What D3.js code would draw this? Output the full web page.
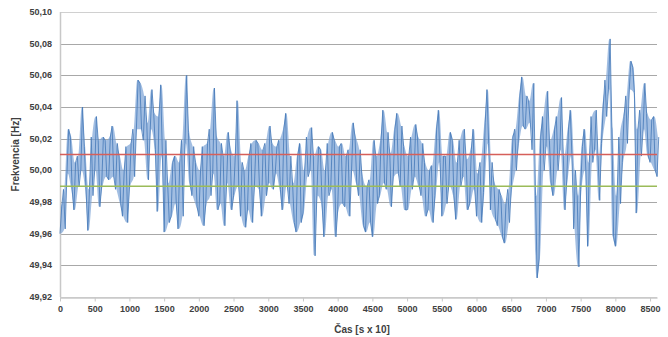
<!DOCTYPE html>
<html>
<head>
<meta charset="utf-8">
<script src="https://cdn.jsdelivr.net/npm/d3@7"></script>
<style>
  html, body { margin: 0; padding: 0; background: #ffffff; }
  svg { display: block; }
  text { font-family: "Liberation Sans", Arial, sans-serif; fill: #404040; }
</style>
</head>
<body>
<svg id="chart" width="668" height="337"></svg>
<script>
// ---- data ----
// time step of the sampled envelope (s x 10)
const timeStart = 0;
const timeStep = 50;
// upper excursion of the frequency trace in each 50-unit slot [Hz]
const freqHigh = [
  49.977,49.988,50.026,50.021,50.005,50.009,50.040,50.015,49.988,50.021,
  50.034,50.019,50.021,50.019,50.021,50.028,50.017,50.009,50.000,50.015,
  50.017,50.026,50.057,50.055,50.047,50.030,50.051,50.036,50.034,50.054,
  50.019,49.992,50.005,50.009,50.005,
  50.019,50.060,50.024,50.015,50.005,50.000,50.015,50.017,50.026,50.052,
  50.021,50.017,50.009,50.024,50.013,50.009,50.044,50.005,50.000,50.009,
  50.017,50.019,50.017,50.013,50.017,50.028,50.017,50.015,50.019,50.026,
  50.036,50.009,49.992,50.009,
  50.017,50.000,50.021,50.027,50.009,50.015,50.013,50.000,50.017,50.024,
  50.019,50.015,50.017,50.009,50.013,50.030,50.021,50.013,49.996,49.990,
  49.994,50.019,50.009,50.019,50.038,50.024,50.011,50.026,50.036,50.028,
  50.015,50.009,50.021,50.029,50.021,
  50.017,50.005,50.000,50.003,50.026,50.038,50.009,50.009,50.024,50.019,
  50.005,50.019,50.026,50.007,50.013,50.026,49.998,50.005,50.030,50.051,
  50.005,49.992,49.988,49.984,49.979,49.988,50.021,50.026,50.047,50.059,
  50.047,50.044,50.055,49.984,
  50.021,50.034,50.050,50.019,50.026,50.034,50.046,50.009,50.026,50.038,
  50.000,49.984,50.015,50.026,50.005,50.034,50.038,50.009,50.040,50.057,
  50.083,50.026,49.984,50.021,50.034,50.047,50.069,50.065,50.026,50.038,
  50.055,50.036,50.032,50.034,50.021
];
// lower excursion of the frequency trace in each 50-unit slot [Hz]
const freqLow = [
  49.960,49.963,49.998,49.988,49.975,49.990,50.000,49.988,49.962,49.984,
  50.000,49.977,49.990,49.996,49.994,49.996,49.988,49.979,49.971,49.967,
  49.990,49.996,50.026,50.026,50.019,49.994,50.026,50.013,49.974,50.009,
  49.961,49.967,49.971,49.979,49.963,
  49.971,50.017,49.992,49.984,49.977,49.971,49.965,49.979,49.984,49.998,
  49.975,49.979,49.965,49.992,49.975,49.984,49.990,49.971,49.964,49.975,
  49.967,49.990,49.988,49.971,49.984,49.992,49.988,49.998,49.988,49.975,
  49.990,49.979,49.967,49.961,
  49.967,49.973,49.996,50.000,49.946,49.984,49.979,49.958,49.984,49.988,
  49.958,49.975,49.979,49.977,49.971,50.000,49.992,49.984,49.965,49.961,
  49.967,49.958,49.979,49.984,49.992,49.988,49.977,49.996,49.998,49.990,
  49.975,49.975,49.988,49.996,49.990,
  49.984,49.971,49.975,49.967,49.984,50.005,49.971,49.979,49.990,49.984,
  49.969,49.990,49.996,49.975,49.979,49.988,49.971,49.967,49.986,50.017,
  49.975,49.969,49.965,49.958,49.954,49.967,49.988,50.000,50.017,50.028,
  50.026,50.030,50.013,49.932,
  49.944,50.000,50.015,49.992,49.984,50.000,50.013,49.975,49.994,50.009,
  49.963,49.939,49.988,50.000,49.952,50.005,50.013,49.981,50.017,50.034,
  50.051,49.958,49.952,49.979,50.005,50.017,50.051,50.049,49.973,50.009,
  50.026,50.009,50.005,50.000,49.996
];
// reference limits
const upperLimit = 50.01;
const lowerLimit = 49.99;
// axes
const xTicks = [0,500,1000,1500,2000,2500,3000,3500,4000,4500,5000,5500,6000,6500,7000,7500,8000,8500];
const yTicks = [49.92,49.94,49.96,49.98,50.00,50.02,50.04,50.06,50.08,50.10];
const xMax = 8600;
const xTitle = "Čas [s x 10]";
const yTitle = "Frekvencia [Hz]";

// ---- drawing ----
(function () {
const svg = d3.select("#chart");
const pL = 60, pR = 657, pT = 12, pB = 297;

const x = d3.scaleLinear().domain([0, xMax]).range([pL, pR]);
const y = d3.scaleLinear().domain([49.92, 50.10]).range([pB, pT]);

// gridlines
svg.append("g").selectAll("line").data(yTicks).join("line")
  .attr("x1", pL).attr("x2", pR)
  .attr("y1", d => Math.round(y(d)) + 0.5).attr("y2", d => Math.round(y(d)) + 0.5)
  .attr("stroke", d => (d === 50.10 || d === 49.92) ? "#d0d0d0" : "#a8a8a8")
  .attr("stroke-width", 1);

// y axis line
svg.append("line")
  .attr("x1", pL + 0.5).attr("x2", pL + 0.5)
  .attr("y1", pT).attr("y2", pB)
  .attr("stroke", "#c8c8c8").attr("stroke-width", 1.5);

// y tick labels
const fmt = d => d.toFixed(2).replace(".", ",");
svg.append("g").selectAll("text").data(yTicks).join("text")
  .attr("x", 52).attr("y", d => y(d))
  .attr("dy", "0.35em")
  .attr("text-anchor", "end")
  .attr("font-size", "9px").attr("font-weight", "bold")
  .text(fmt);

// x axis with ticks
const xAxis = d3.axisBottom(x).tickValues(xTicks).tickSize(4).tickSizeOuter(0).tickFormat(d3.format("d"));
const gx = svg.append("g").attr("transform", `translate(0,${pB + 0.5})`).call(xAxis);
gx.select(".domain").attr("stroke", "#c8c8c8").attr("stroke-width", 1.5);
gx.selectAll(".tick line").attr("stroke", "#c8c8c8");
gx.selectAll(".tick text")
  .attr("y", 8).attr("dy", "0.71em")
  .attr("font-size", "9px").attr("font-weight", "bold")
  .attr("font-family", "Liberation Sans, Arial, sans-serif")
  .attr("fill", "#404040");

// series
const slots = freqHigh.map((h, i) => ({ t: timeStart + i * timeStep + timeStep / 4, hi: h, lo: freqLow[i] }));

// band of the noisy trace between its read excursions
const band = d3.area()
  .x(d => x(d.t))
  .y0(d => y(d.lo))
  .y1(d => y(d.hi))
  .curve(d3.curveMonotoneX);
svg.append("path").datum(slots)
  .attr("d", band)
  .attr("fill", "#7aa2d6")
  .attr("fill-opacity", 0.7);

// trace alternating between the read upper and lower excursions
const pts = [];
slots.forEach((s, i) => {
  const t0 = s.t - timeStep / 4, t1 = s.t + timeStep / 4;
  if (i % 2 === 0) { pts.push([t0, s.lo]); pts.push([t1, s.hi]); }
  else { pts.push([t0, s.hi]); pts.push([t1, s.lo]); }
});
const line = d3.line().x(d => x(d[0])).y(d => y(d[1]));
svg.append("path").datum(pts)
  .attr("d", line)
  .attr("fill", "none")
  .attr("stroke", "#4377b8")
  .attr("stroke-width", 0.8)
  .attr("stroke-linejoin", "round");

// limit lines
svg.append("line")
  .attr("x1", pL).attr("x2", pR)
  .attr("y1", y(upperLimit)).attr("y2", y(upperLimit))
  .attr("stroke", "#d65f5a").attr("stroke-width", 1.5);
svg.append("line")
  .attr("x1", pL).attr("x2", pR)
  .attr("y1", y(lowerLimit)).attr("y2", y(lowerLimit))
  .attr("stroke", "#9bbb59").attr("stroke-width", 1.5);

// axis titles
svg.append("text")
  .attr("transform", `translate(19,${(pT + pB) / 2}) rotate(-90)`)
  .attr("text-anchor", "middle")
  .attr("font-size", "10px").attr("font-weight", "bold")
  .text(yTitle);
svg.append("text")
  .attr("x", 362).attr("y", 333)
  .attr("text-anchor", "middle")
  .attr("font-size", "10px").attr("font-weight", "bold")
  .text(xTitle);
})();
</script>
</body>
</html>
